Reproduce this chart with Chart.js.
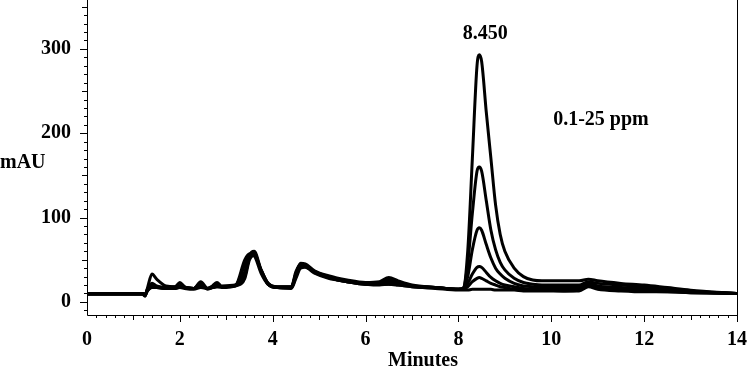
<!DOCTYPE html>
<html>
<head>
<meta charset="utf-8">
<script src="https://cdn.jsdelivr.net/npm/chart.js@4/dist/chart.umd.min.js"></script>
<style>
html,body{margin:0;padding:0;background:#fff;}
canvas{display:block;}
</style>
</head>
<body>
<canvas id="c" width="751" height="373"></canvas>
<script>
// retention time (minutes)
const minutes = [0, 1.2, 1.25, 1.3, 1.4, 1.5, 1.7, 1.9, 2.0, 2.1, 2.3, 2.45, 2.6, 2.7, 2.8, 2.9,
  3.2, 3.4, 3.5, 3.6, 3.75, 3.9, 4.1, 4.4, 4.5, 4.6, 4.7, 4.9, 5.2, 5.6, 6.0, 6.3, 6.5, 6.7, 7.0, 7.5,
  8.0, 8.1, 8.2, 8.3, 8.4, 8.45, 8.5, 8.6, 8.7, 8.8, 8.9, 9.0, 9.2, 9.4, 9.6, 9.8,
  10.3, 10.6, 10.8, 11.0, 11.5, 12.0, 12.5, 13.0, 14.0];

// absorbance traces (mAU), highest to lowest concentration
const traceA = [10, 10, 7, 16, 33, 27, 19, 18, 23, 18, 16, 24, 16, 19, 23, 19,
  20, 30, 55, 60, 38, 22, 18, 18, 33, 46, 45, 37, 31, 26, 23, 24, 29, 25, 20, 17,
  15, 16, 60, 170, 280, 293, 285, 225, 170, 115, 80, 60, 40, 30, 26, 25,
  25, 25, 27, 25, 22, 20, 17, 14, 10];
const traceB = [10, 10, 8, 15, 22, 19, 17, 18, 22, 18, 16, 22, 15, 18, 22, 18,
  20, 50, 57, 55, 34, 21, 18, 18, 36, 45, 44, 36, 30, 25, 22, 23, 26, 23, 19, 17,
  15, 16, 45, 105, 155, 160, 155, 120, 85, 62, 47, 38, 28, 23, 21, 20,
  20, 20, 24, 22, 20, 18, 16, 13, 10];
const traceC = [9, 9, 7, 14, 20, 18, 17, 17, 19, 17, 16, 20, 16, 18, 20, 18,
  20, 44, 56, 58, 36, 22, 17, 17, 34, 44, 43, 36, 30, 25, 22, 22, 24, 22, 19, 17,
  15, 16, 30, 62, 85, 88, 85, 68, 52, 40, 33, 28, 22, 19, 18, 17,
  17, 17, 22, 19, 17, 16, 14, 12, 10];
const traceD = [9, 9, 8, 14, 19, 18, 16, 17, 18, 17, 16, 19, 16, 17, 19, 18,
  20, 36, 54, 57, 37, 21, 17, 17, 32, 43, 42, 35, 29, 24, 21, 21, 22, 21, 19, 17,
  15, 15, 22, 33, 41, 42, 41, 35, 29, 25, 22, 20, 18, 16, 15, 15,
  15, 15, 20, 17, 15, 14, 13, 12, 10];
const traceE = [10, 10, 9, 13, 18, 17, 16, 16, 18, 17, 16, 18, 16, 17, 18, 18,
  19, 32, 52, 56, 37, 21, 17, 17, 30, 42, 42, 35, 29, 24, 21, 21, 21, 20, 18, 17,
  15, 15, 18, 24, 28, 29, 28, 25, 22, 20, 18, 17, 15, 14, 14, 14,
  13, 14, 19, 16, 14, 13, 12, 11, 10];
const traceF = [10, 10, 9, 13, 17, 17, 16, 16, 17, 16, 15, 17, 16, 17, 18, 17,
  19, 28, 50, 55, 38, 22, 17, 16, 28, 40, 41, 34, 28, 24, 21, 20, 21, 20, 18, 16,
  14, 14, 14, 15, 15, 15, 15, 15, 15, 14, 14, 14, 14, 13, 13, 13,
  13, 13, 18, 15, 13, 12, 12, 11, 10];

const yTickValues = [0, 100, 200, 300];
const xTickValues = [0, 2, 4, 6, 8, 10, 12, 14];
const peakLabel = "8.450";
const peakTime = 8.45;
const rangeLabel = "0.1-25 ppm";
const yTitle = "mAU";
const xTitle = "Minutes";

const traces = [traceA, traceB, traceC, traceD, traceE, traceF];
const FONT = 'bold 20px "Liberation Serif", "Times New Roman", serif';

const zeroPad = s => { s.paddingTop = 0; s.paddingBottom = 0; s.paddingLeft = 0; s.paddingRight = 0; };

const decor = {
  id: 'decor',
  afterDraw(chart) {
    const ctx = chart.ctx, ca = chart.chartArea;
    const xs = chart.scales.x, ys = chart.scales.y;
    ctx.save();
    ctx.strokeStyle = '#000';
    ctx.lineWidth = 1;
    ctx.beginPath();
    ctx.moveTo(ca.left + 0.5, ca.top);
    ctx.lineTo(ca.left + 0.5, ca.bottom + 0.5);
    ctx.lineTo(ca.right + 0.5, ca.bottom + 0.5);
    ctx.lineTo(ca.right + 0.5, ca.top);
    ctx.stroke();
    // y ticks (outward)
    ctx.beginPath();
    for (let v = -10; v <= 350; v += 10) {
      const y = Math.round(ys.getPixelForValue(v)) + 0.5;
      const len = v % 100 === 0 ? 7 : (v % 50 === 0 ? 5 : 3);
      ctx.moveTo(ca.left, y);
      ctx.lineTo(ca.left - len, y);
    }
    // x ticks (outward)
    for (let k = 1; k <= 70; k++) {
      const v = k * 0.2;
      const x = Math.round(xs.getPixelForValue(v)) + 0.5;
      const len = k % 10 === 0 ? 7 : (k % 5 === 0 ? 5 : 3);
      ctx.moveTo(x, ca.bottom);
      ctx.lineTo(x, ca.bottom + len);
    }
    ctx.stroke();
    // texts
    ctx.fillStyle = '#000';
    ctx.font = FONT;
    ctx.textBaseline = 'middle';
    ctx.textAlign = 'left';
    ctx.fillText(yTitle, 0, 163);
    ctx.textAlign = 'center';
    ctx.fillText(xTitle, 423, 361);
    ctx.fillText(peakLabel, xs.getPixelForValue(peakTime) + 6, ys.getPixelForValue(318));
    ctx.fillText(rangeLabel, xs.getPixelForValue(11.07), ys.getPixelForValue(216));
    ctx.restore();
  }
};

new Chart(document.getElementById('c'), {
  type: 'line',
  data: {
    datasets: traces.map((s, i) => ({
      label: 'trace ' + (i + 1),
      data: minutes.map((t, j) => ({ x: t, y: s[j] })),
      borderColor: '#000',
      borderWidth: 3,
      pointRadius: 0,
      fill: false,
      cubicInterpolationMode: 'monotone'
    }))
  },
  options: {
    responsive: false,
    devicePixelRatio: 1,
    animation: false,
    layout: { padding: { left: 0, right: 14, top: 0, bottom: 0 } },
    plugins: { legend: { display: false }, tooltip: { enabled: false } },
    scales: {
      x: {
        type: 'linear', min: 0, max: 14,
        afterBuildTicks: s => { s.ticks = xTickValues.map(v => ({ value: v })); },
        afterFit: s => { s.height = 58; zeroPad(s); },
        grid: { display: false, drawTicks: false },
        border: { display: false },
        ticks: { font: { family: '"Liberation Serif"', size: 20, weight: 'bold' }, color: '#000', padding: 13, maxRotation: 0, autoSkip: false }
      },
      y: {
        type: 'linear', min: -15.5, max: 358,
        afterBuildTicks: s => { s.ticks = yTickValues.map(v => ({ value: v })); },
        afterFit: s => { s.width = 87; zeroPad(s); },
        grid: { display: false, drawTicks: false },
        border: { display: false },
        ticks: { font: { family: '"Liberation Serif"', size: 20, weight: 'bold' }, color: '#000', padding: 16 }
      }
    }
  },
  plugins: [decor]
});
</script>
</body>
</html>
